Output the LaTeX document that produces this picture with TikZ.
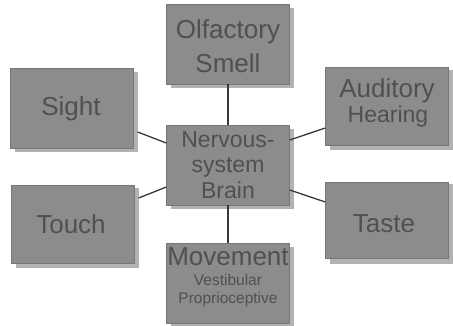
\documentclass[tikz,border=0pt]{standalone}
\usepackage{fontspec}
\setmainfont{Liberation Sans}
\usetikzlibrary{calc}
\definecolor{boxgray}{RGB}{140,140,140}
\definecolor{shadowgray}{RGB}{178,178,178}
\definecolor{txtgray}{RGB}{80,80,80}
\definecolor{linegray}{RGB}{55,55,55}
\tikzset{
  sensebox/.style={rectangle, fill=boxgray, draw=boxgray!85!black, line width=0.4pt,
    minimum width=123pt, minimum height=80pt, inner sep=0pt, anchor=center},
  shadowbox/.style={rectangle, fill=shadowgray, minimum width=123pt, minimum height=80pt, inner sep=0pt},
  big/.style={text=txtgray, anchor=base, inner sep=0pt, font=\fontsize{26}{28}\selectfont},
  mid/.style={text=txtgray, anchor=base, inner sep=0pt, font=\fontsize{23}{25}\selectfont},
  small/.style={text=txtgray, anchor=base, inner sep=0pt, font=\fontsize{15.5}{17}\selectfont},
  link/.style={draw=linegray, line width=1.3pt}
}
\begin{document}
\begin{tikzpicture}[x=1pt,y=-1pt]
\useasboundingbox (0,0) rectangle (453,325);
% shadows
\foreach \cx/\cy in {228/44, 228/165, 228/283, 72/108, 387/106, 73/224, 387/220}
  \node[shadowbox] at (\cx+4,\cy+4) {};
% boxes
\node[sensebox] (olf) at (228,44) {};
\node[sensebox] (nerv) at (228,165) {};
\node[sensebox] (mov) at (228,283) {};
\node[sensebox] (sight) at (72,108) {};
\node[sensebox, minimum height=78pt] (aud) at (387,106) {};
\node[sensebox, minimum height=78pt] (touch) at (73,224) {};
\node[sensebox, minimum height=76pt] (taste) at (387,220) {};
% texts
\node[big] (olf1) at (228,38) {Olfactory};
\node[big] (olf2) at (228,72) {Smell};
\node[mid] (nerv1) at (228,147) {Nervous-};
\node[mid] (nerv2) at (228,172) {system};
\node[mid] (nerv3) at (228,198) {Brain};
\node[big] (mov1) at (228,265) {Movement};
\node[small] (mov2) at (228,285) {Vestibular};
\node[small] (mov3) at (228,303) {Proprioceptive};
\node[big] (sight1) at (71,115) {Sight};
\node[big] (aud1) at (387,97) {Auditory};
\node[mid] (aud2) at (388,122) {Hearing};
\node[big] (touch1) at (71,233) {Touch};
\node[big] (taste1) at (384,232) {Taste};
% connectors
\draw[link] (olf.south) -- (nerv.north);
\draw[link] (nerv.south) -- (mov.north);
\draw[link] ([xshift=4pt,yshift=-24pt]sight.east) -- ([yshift=22pt]nerv.west);
\draw[link] ([yshift=25pt]nerv.east) -- ([yshift=-22pt]aud.west);
\draw[link] ([xshift=4pt,yshift=26pt]touch.east) -- ([yshift=-22pt]nerv.west);
\draw[link] ([yshift=-25pt]nerv.east) -- ([yshift=18pt]taste.west);
\end{tikzpicture}
\end{document}
